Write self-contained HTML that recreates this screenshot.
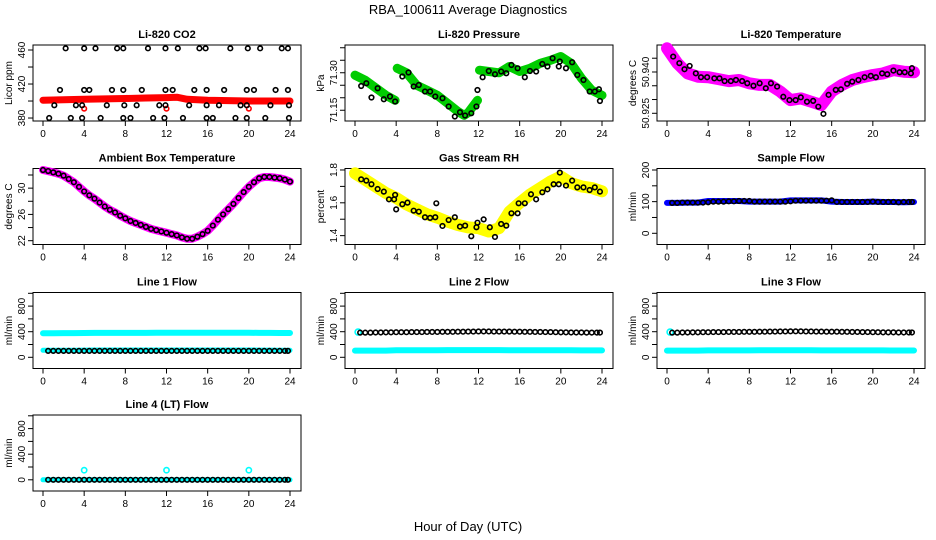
<!DOCTYPE html>
<html><head><meta charset="utf-8"><style>
html,body{margin:0;padding:0;background:#fff;}
svg{display:block;font-family:"Liberation Sans",sans-serif;}
</style></head><body>
<svg id="chart" width="936" height="540" viewBox="0 0 936 540" xmlns="http://www.w3.org/2000/svg">
<rect width="936" height="540" fill="#fff"/>
<text x="468" y="14" text-anchor="middle" font-size="13">RBA_100611  Average Diagnostics</text>
<text x="468" y="531" text-anchor="middle" font-size="13">Hour of Day (UTC)</text>
</svg>
<script>
// ---- data ----
const xTicks = [0,4,8,12,16,20,24];
const halfHours = [0.5,1,1.5,2,2.5,3,3.5,4,4.5,5,5.5,6,6.5,7,7.5,8,8.5,9,9.5,10,10.5,11,11.5,12,12.5,13,13.5,14,14.5,15,15.5,16,16.5,17,17.5,18,18.5,19,19.5,20,20.5,21,21.5,22,22.5,23,23.5,23.8];
const hourly = [0,1,2,3,4,5,6,7,8,9,10,11,12,13,14,15,16,17,18,19,20,21,22,23,24];

// CO2
const co2RedHours = [0,2,4,6,8,10,12,13,14,16,18,20,22,24];
const co2Red = [401,401.5,402,402.5,403,403.5,404,404.5,402,401,400.5,400,400,400];
const co2BlackHours = [2.2,4.0,5.1,7.2,7.8,10.2,11.9,13.1,15.2,15.8,18.2,19.9,21.1,23.2,23.8,
 1.65,4.0,4.5,6.7,7.8,9.6,11.9,12.6,14.7,15.9,17.6,19.8,20.5,22.6,23.8,
 1.1,3.2,3.8,6.2,7.9,9.1,11.3,11.9,14.2,15.9,17.1,19.2,19.8,22.1,23.9,
 0.6,2.7,3.8,5.6,7.8,8.5,10.7,11.8,13.6,15.9,16.5,18.7,19.8,21.6,23.9];
const co2Black = [462,462,462,462,462,462,462,462,462,462,462,462,462,462,462,
 413,413,413,413,413,413,413,413,413,413,413,413,413,413,413,
 395,395,395,395,395,395,395,395,395,395,395,395,395,395,395,
 380,380,380,380,380,380,380,380,380,380,380,380,380,380,380];
const co2RedDotHours = [4,12,20];
const co2RedDots = [391,391,391];

// Pressure
const presGreenHours = [0,1,2,3,3.9,null,4.1,5,6,7,8,9,10,10.6,11,11.9,null,12.1,13,14,15,16,17,18,19,20,21,22,23,24];
const presGreen = [71.29,71.27,71.24,71.21,71.19,null,71.318,71.30,71.25,71.23,71.21,71.178,71.145,71.13,71.14,71.19,null,71.31,71.305,71.30,71.325,71.305,71.318,71.338,71.35,71.365,71.338,71.278,71.23,71.21];
const presBlackHours = [0.6,1.1,1.6,2.2,2.8,3.4,3.9,4.6,5.2,5.7,6.2,6.8,7.3,7.8,8.5,9.1,9.7,10.2,10.7,11.3,11.8,11.9,12.4,13,13.6,14.2,14.7,15.2,15.8,16.5,17,17.6,18.2,18.7,19.2,19.8,19.9,20.5,21.1,21.6,22.2,22.8,23.3,23.7,23.8];
const presBlack = [71.247,71.258,71.201,71.238,71.194,71.205,71.185,71.285,71.301,71.245,71.251,71.225,71.225,71.205,71.198,71.165,71.125,71.142,71.129,71.138,71.165,71.231,71.282,71.307,71.294,71.305,71.298,71.331,71.318,71.282,71.307,71.305,71.335,71.325,71.358,71.325,71.345,71.318,71.342,71.291,71.271,71.225,71.225,71.234,71.187];

// Li-820 temperature
const tempMag = [50.9486,50.9432,50.9395,50.9383,50.9381,50.9374,50.9367,50.9371,50.9359,50.9353,50.9353,50.9329,50.9298,50.9304,50.9292,50.9280,50.9329,50.9353,50.9371,50.9381,50.9389,50.9395,50.9407,50.9401,50.9399];
const tempBlackHours = [0.6,1.2,1.7,2.2,2.8,3.3,3.9,4.6,5.1,5.6,6.2,6.7,7.3,7.8,8.4,9.0,9.6,10.1,10.7,11.3,11.9,12.5,13.0,13.6,14.2,14.7,15.2,15.7,16.4,16.9,17.5,18.0,18.6,19.2,19.8,20.3,20.9,21.4,22.0,22.6,23.1,23.7,23.8];
const tempBlack = [50.9456,50.9432,50.9410,50.9422,50.9395,50.9381,50.9381,50.9377,50.9377,50.9367,50.9367,50.9371,50.9367,50.9359,50.9350,50.9359,50.9341,50.9359,50.9347,50.9310,50.9298,50.9298,50.9308,50.9292,50.9295,50.9274,50.9248,50.9317,50.9335,50.9337,50.9357,50.9365,50.9371,50.9381,50.9386,50.9381,50.9395,50.9392,50.9405,50.9399,50.9399,50.9395,50.9414];

// Ambient box temperature
const ambHours = [0,0.5,1,1.5,2,2.5,3,3.5,4,4.5,5,5.5,6,6.5,7,7.5,8,8.5,9,9.5,10,10.5,11,11.5,12,12.5,13,13.5,14,14.5,15,15.5,16,16.5,17,17.5,18,18.5,19,19.5,20,20.5,21,21.5,22,22.5,23,23.5,24];
const ambTemp = [32.76,32.6,32.4,32.2,31.9,31.4,30.9,30.2,29.5,28.9,28.4,27.8,27.2,26.7,26.3,25.8,25.4,25.0,24.7,24.4,24.1,23.8,23.6,23.4,23.2,23.0,22.8,22.5,22.3,22.3,22.6,23.0,23.5,24.3,25.2,26.0,26.8,27.6,28.5,29.4,30.2,30.9,31.5,31.7,31.7,31.6,31.5,31.3,31.0];

// Gas stream RH
const rhYellow = [1.78,1.74,1.70,1.66,1.63,1.59,1.56,1.53,1.51,1.485,1.465,1.45,1.445,1.425,1.445,1.545,1.60,1.65,1.69,1.73,1.76,1.72,1.70,1.69,1.67];
const rhBlackHours = [0.6,1.1,1.6,2.2,2.8,3.3,3.8,3.9,4.0,4.6,5.1,5.7,6.2,6.8,7.3,7.8,7.9,8.5,9.1,9.7,10.2,10.7,11.3,11.8,11.9,12.5,13.1,13.6,14.2,14.7,15.2,15.8,15.9,16.5,17.1,17.6,18.2,18.7,19.3,19.8,19.9,20.5,21.1,21.6,22.2,22.8,23.3,23.8];
const rhBlack = [1.743,1.735,1.713,1.684,1.668,1.621,1.621,1.648,1.560,1.591,1.601,1.552,1.546,1.512,1.508,1.512,1.597,1.459,1.495,1.512,1.455,1.461,1.396,1.451,1.479,1.499,1.451,1.392,1.471,1.461,1.536,1.536,1.597,1.597,1.652,1.621,1.664,1.682,1.713,1.713,1.784,1.705,1.735,1.694,1.694,1.678,1.694,1.668];

// Sample flow
const sampleBlue = [96,96,97,97,102,102,102,102,100,100,100,100,104,104,104,104,100,99,99,99,100,99,99,98,99];
const sampleBlack = [96,96,97,97,97,97,97,98,100,100,100,101,101,102,102,102,100,100,100,100,100,100,100,101,103,103,103,103,103,103,103,104,99,99,99,99,99,99,99,100,99,99,99,99,98,99,99,99];

// Line flows
const line1CyanHigh = [375,375,378,378,380,382,382,382,382,382,382,383,383,383,383,383,384,384,384,384,384,382,381,380,380];
const line1CyanLow = [110,110,110,110,112,114,114,114,114,114,114,114,114,114,114,114,114,114,114,114,114,112,112,110,110];
const line1Black = [100,100,100,100,100,100,100,100,100,100,100,100,100,100,100,100,100,100,100,100,100,100,100,100,100,100,100,100,100,100,100,100,100,100,100,100,100,100,100,100,100,100,100,100,100,100,100,100];
const line2Cyan = [105,105,105,105,110,110,110,110,110,112,112,112,112,112,112,110,110,110,110,110,110,110,108,108,108];
const line2Black = [385,385,385,388,388,390,390,392,392,392,394,394,394,396,396,396,398,398,398,400,400,402,402,404,404,404,402,402,402,402,400,400,398,398,396,396,394,394,392,390,390,388,388,388,386,386,386,386];
const line3Cyan = [105,105,105,105,108,108,108,108,108,110,110,110,110,110,110,108,108,108,108,108,108,108,106,106,106];
const line3Black = [385,385,388,388,390,390,392,392,394,394,394,396,396,396,398,398,398,400,400,402,402,404,404,406,406,406,404,404,402,402,400,400,400,398,398,396,396,394,394,392,392,390,390,390,388,388,388,388];
const line4Cyan = [0,0,0,0,0,0,0,0,0,0,0,0,0,0,0,0,0,0,0,0,0,0,0,0,0];
const line4Black = [0,0,0,0,0,0,0,0,0,0,0,0,0,0,0,0,0,0,0,0,0,0,0,0,0,0,0,0,0,0,0,0,0,0,0,0,0,0,0,0,0,0,0,0,0,0,0,0];
const line4SpikeHours = [4,12,20];
const line4Spike = [150,150,150];
const cyanStartHours = [0.3];
const cyanStartVal = [395];

// ---- layout ----
const svg = document.getElementById('chart');
const NS = 'http://www.w3.org/2000/svg';
const colLeft = [33,345,657], rowTop = [45,168.5,292.5,415], BW = 268, BH = 76;

function mk(tag, attrs, parent) {
  const e = document.createElementNS(NS, tag);
  for (const k in attrs) e.setAttribute(k, attrs[k]);
  (parent || svg).appendChild(e);
  return e;
}

function panel(p) {
  const L = colLeft[p.col], T = rowTop[p.row];
  const g = mk('g', {});
  
  
  const xs = h => L + 10 + h * (247 / 24);
  const ys = v => T + BH - (v - p.ylim[0]) / (p.ylim[1] - p.ylim[0]) * BH;
  p.xs = xs; p.ys = ys; p.g = g;
  const box = mk('rect', {x: L, y: T, width: BW, height: BH, fill: 'none', stroke: '#000', 'stroke-width': 1}, g);
  
  
  const title = mk('text', {x: L + BW / 2, y: T - 7, 'text-anchor': 'middle', 'font-size': 11, 'font-weight': 'bold'}, g);
  title.textContent = p.title;
  
  
  xTicks.forEach(t => {
    mk('line', {x1: xs(t), x2: xs(t), y1: T + BH, y2: T + BH + 5, stroke: '#000'}, g);
    const tx = mk('text', {x: xs(t), y: T + BH + 16, 'text-anchor': 'middle', 'font-size': 10}, g);
    tx.textContent = t;
    
    
  });
  p.yticks.forEach(t => {
    mk('line', {x1: L - 5, x2: L, y1: ys(t), y2: ys(t), stroke: '#000'}, g);
  });
  p.ylabels.forEach((lab, i) => {
    const y = ys(p.ylabelVals[i]);
    const tx = mk('text', {x: L - 8, y: y, 'text-anchor': 'middle', 'font-size': 10, transform: 'rotate(-90 ' + (L - 8) + ' ' + y + ')'}, g);
    tx.textContent = lab;
    
    
  });
  const yl = mk('text', {x: L - 21, y: T + BH / 2, 'text-anchor': 'middle', 'font-size': 10, transform: 'rotate(-90 ' + (L - 21) + ' ' + (T + BH / 2) + ')'}, g);
  yl.textContent = p.ylab;
  
  
  return p;
}

function band(p, hours, vals, color, width, name) {
  let d = '', pen = false;
  hours.forEach((h, i) => {
    if (h === null || vals[i] === null) { pen = false; return; }
    d += (pen ? 'L' : 'M') + p.xs(h).toFixed(1) + ' ' + p.ys(vals[i]).toFixed(1);
    pen = true;
  });
  const path = mk('path', {d: d, fill: 'none', stroke: color, 'stroke-width': width, 'stroke-linejoin': 'round', 'stroke-linecap': 'round'}, p.g);
  
  
}

function dots(p, hours, vals, color, name, r) {
  hours.forEach((h, i) => {
    if (h === null || vals[i] === null) return;
    const c = mk('circle', {cx: p.xs(h), cy: p.ys(vals[i]), r: r || 2.3, fill: 'none', stroke: color, 'stroke-width': 1.6}, p.g);
    
    
  });
}

const flowTicks = [0,200,400,600,800,1000];

// Panel 1: CO2
const p1 = panel({name: 'co2-panel', col: 0, row: 0, title: 'Li-820 CO2', ylim: [376.5, 465.9], yticks: [380,400,420,440,460], ylabels: ['380','420','460'], ylabelVals: [380,420,460], ylab: 'Licor ppm'});
band(p1, co2RedHours, co2Red, '#ff0000', 7, 'co2-red-band');
dots(p1, co2RedDotHours, co2RedDots, '#ff0000', 'co2-red-point');
dots(p1, co2BlackHours, co2Black, '#000', 'co2-point');

// Panel 2: Pressure
const p2 = panel({name: 'pressure-panel', col: 1, row: 0, title: 'Li-820 Pressure', ylim: [71.107, 71.411], yticks: [71.15,71.2,71.25,71.3,71.35,71.4], ylabels: ['71.15','71.30'], ylabelVals: [71.15,71.3], ylab: 'kPa'});
band(p2, presGreenHours, presGreen, '#00cc00', 9, 'pressure-green-band');
dots(p2, presGreenHours, presGreen, '#00cc00', 'pressure-green-point', 3);
dots(p2, presBlackHours, presBlack, '#000', 'pressure-point');

// Panel 3: Li-820 temperature
const p3 = panel({name: 'licor-temp-panel', col: 2, row: 0, title: 'Li-820 Temperature', ylim: [50.9222, 50.9498], yticks: [50.925,50.93,50.935,50.94,50.945], ylabels: ['50.925','50.940'], ylabelVals: [50.925,50.94], ylab: 'degrees C'});
band(p3, hourly, tempMag, '#ff00ff', 12, 'licor-temp-magenta-band');
dots(p3, hourly, tempMag, '#ff00ff', 'licor-temp-magenta-point', 3);
dots(p3, tempBlackHours, tempBlack, '#000', 'licor-temp-point');

// Panel 4: Ambient
const p4 = panel({name: 'ambient-temp-panel', col: 0, row: 1, title: 'Ambient Box Temperature', ylim: [21.42, 32.99], yticks: [22,24,26,28,30,32], ylabels: ['22','26','30'], ylabelVals: [22,26,30], ylab: 'degrees C'});
band(p4, ambHours, ambTemp, '#ff00ff', 8, 'ambient-magenta-band');
dots(p4, ambHours, ambTemp, '#000', 'ambient-point');

// Panel 5: RH
const p5 = panel({name: 'rh-panel', col: 1, row: 1, title: 'Gas Stream RH', ylim: [1.346, 1.809], yticks: [1.4,1.5,1.6,1.7,1.8], ylabels: ['1.4','1.6','1.8'], ylabelVals: [1.4,1.6,1.8], ylab: 'percent'});
band(p5, hourly, rhYellow, '#ffff00', 12, 'rh-yellow-band');
dots(p5, hourly, rhYellow, '#ffff00', 'rh-yellow-point', 3);
dots(p5, rhBlackHours, rhBlack, '#000', 'rh-point');

// Panel 6: Sample flow
const p6 = panel({name: 'sample-flow-panel', col: 2, row: 1, title: 'Sample Flow', ylim: [-35.4, 204.7], yticks: [0,50,100,150,200], ylabels: ['0','100','200'], ylabelVals: [0,100,200], ylab: 'ml/min'});
band(p6, hourly, sampleBlue, '#0000ff', 6, 'sample-flow-blue-band');
dots(p6, halfHours, sampleBlack, '#000', 'sample-flow-point');

// Panels 7-10: line flows
function flowPanel(name, col, row, title) {
  return panel({name: name, col: col, row: row, title: title, ylim: [-175, 1012.5], yticks: flowTicks, ylabels: ['0','400','800'], ylabelVals: [0,400,800], ylab: 'ml/min'});
}
const p7 = flowPanel('line1-flow-panel', 0, 2, 'Line 1 Flow');
band(p7, hourly, line1CyanHigh, '#00ffff', 6, 'line1-cyan-high-band');
band(p7, hourly, line1CyanLow, '#00ffff', 5, 'line1-cyan-low-band');
dots(p7, halfHours, line1Black, '#000', 'line1-point');

const p8 = flowPanel('line2-flow-panel', 1, 2, 'Line 2 Flow');
band(p8, hourly, line2Cyan, '#00ffff', 6, 'line2-cyan-band');
dots(p8, cyanStartHours, cyanStartVal, '#00ffff', 'line2-cyan-point', 3);
dots(p8, halfHours, line2Black, '#000', 'line2-point');

const p9 = flowPanel('line3-flow-panel', 2, 2, 'Line 3 Flow');
band(p9, hourly, line3Cyan, '#00ffff', 6, 'line3-cyan-band');
dots(p9, cyanStartHours, cyanStartVal, '#00ffff', 'line3-cyan-point', 3);
dots(p9, halfHours, line3Black, '#000', 'line3-point');

const p10 = flowPanel('line4-flow-panel', 0, 3, 'Line 4 (LT) Flow');
band(p10, hourly, line4Cyan, '#00ffff', 5, 'line4-cyan-band');
dots(p10, line4SpikeHours, line4Spike, '#00ffff', 'line4-cyan-spike', 2.6);
dots(p10, halfHours, line4Black, '#000', 'line4-point');
</script>
</body></html>
